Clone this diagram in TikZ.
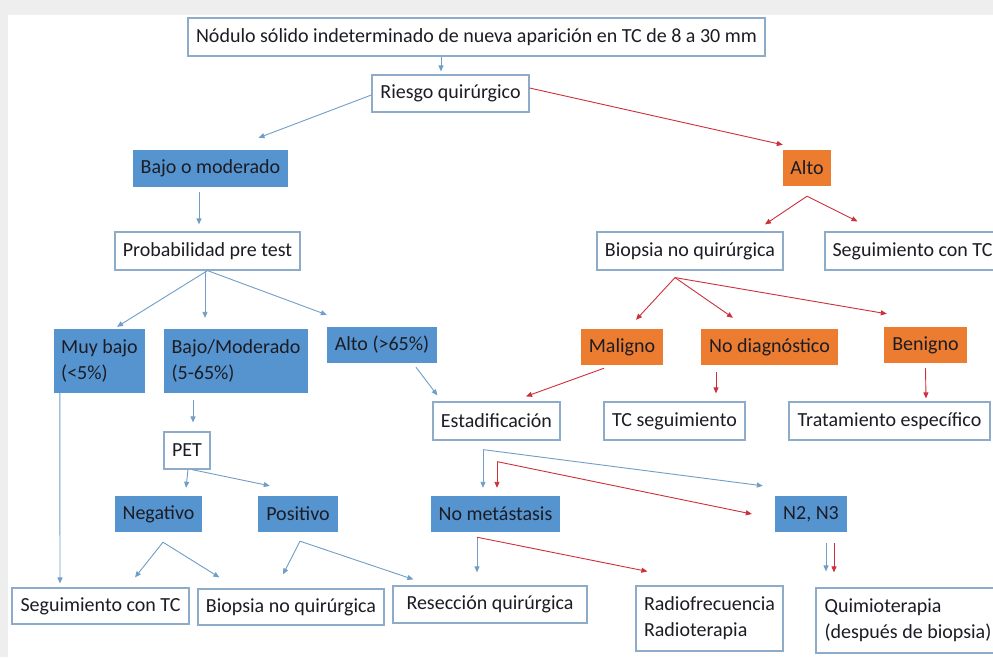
\documentclass[tikz,border=0pt]{standalone}
\usepackage{fontspec}
\setmainfont{Carlito}
\usetikzlibrary{arrows.meta}
\definecolor{boxline}{RGB}{140,172,202}
\definecolor{bluefill}{RGB}{86,148,208}
\definecolor{orangefill}{RGB}{236,124,48}
\definecolor{bluearrow}{RGB}{112,158,198}
\definecolor{redarrow}{RGB}{204,48,58}
\definecolor{txtcol}{RGB}{28,28,36}
\definecolor{frame}{RGB}{238,238,238}
\tikzstyle{plain} = [rectangle, draw=boxline, line width=1.2pt, fill=white, text=txtcol, inner sep=0pt, align=left, font=\fontsize{20}{26}\selectfont]
\tikzstyle{bluebox} = [rectangle, fill=bluefill, text=txtcol, inner sep=0pt, align=left, font=\fontsize{20}{26}\selectfont]
\tikzstyle{orangebox} = [rectangle, fill=orangefill, text=txtcol, inner sep=0pt, align=left, font=\fontsize{20}{26}\selectfont]
\tikzstyle{barrow} = [line width=0.9pt, draw=bluearrow, -{Triangle[length=6pt,width=5pt]}]
\tikzstyle{rarrow} = [line width=0.9pt, draw=redarrow, -{Triangle[length=6pt,width=5pt]}]

\begin{document}
\begin{tikzpicture}[x=1pt, y=-1pt]
	\useasboundingbox (0,0) rectangle (993,657);
	\fill [white] (0,0) rectangle (993,657);
	\fill [frame] (0,0) rectangle (993,15);
	\fill [frame] (0,15) rectangle (8,657);
	% top of the tree
	\node (nodulo) [plain, minimum width=577, minimum height=38] at (476.5,37) {Nódulo sólido indeterminado de nueva aparición en TC de 8 a 30 mm};
	\node (riesgo) [plain, minimum width=157, minimum height=37] at (450.5,93.5) {Riesgo quirúrgico};
	\node (bajomod) [bluebox, minimum width=155, minimum height=37] at (210.5,168.5) {Bajo o moderado};
	\node (alto) [orangebox, minimum width=48, minimum height=36] at (807,168) {Alto};
	% second level
	\node (prob) [plain, minimum width=185, minimum height=38] at (207.5,251) {Probabilidad pre test};
	\node (biopsiaA) [plain, minimum width=186, minimum height=38] at (690,251) {Biopsia no quirúrgica};
	\node (seguimA) [plain, minimum width=175, minimum height=38] at (912.5,251) {Seguimiento con TC};
	\node (muybajo) [bluebox, minimum width=91, minimum height=64] at (99.5,361) {Muy bajo\\(<5\%)};
	\node (bajomod2) [bluebox, minimum width=144, minimum height=64] at (236,361) {Bajo/Moderado\\(5-65\%)};
	\node (altoprob) [bluebox, minimum width=110, minimum height=36] at (382,345) {Alto (>65\%)};
	\node (maligno) [orangebox, minimum width=82, minimum height=36] at (622,347) {Maligno};
	\node (nodiag) [orangebox, minimum width=137, minimum height=36] at (769.5,347) {No diagnóstico};
	\node (benigno) [orangebox, minimum width=83, minimum height=36] at (925.5,345) {Benigno};
	% third level
	\node (estadif) [plain, minimum width=127, minimum height=38] at (496.5,421) {Estadificación};
	\node (tcseg) [plain, minimum width=141, minimum height=38] at (674.5,421) {TC seguimiento};
	\node (tratam) [plain, minimum width=201, minimum height=38] at (889.5,421) {Tratamiento específico};
	\node (pet) [plain, minimum width=46, minimum height=37] at (187,450.5) {PET};
	\node (negativo) [bluebox, minimum width=87, minimum height=36] at (158.5,514) {Negativo};
	\node (positivo) [bluebox, minimum width=80, minimum height=36] at (298,514) {Positivo};
	\node (nometa) [bluebox, minimum width=129, minimum height=36] at (495.5,514) {No metástasis};
	\node (n2n3) [bluebox, minimum width=72, minimum height=36] at (811,514) {N2, N3};
	% leaves
	\node (seguimB) [plain, minimum width=177, minimum height=36] at (100.5,606) {Seguimiento con TC};
	\node (biopsiaB) [plain, minimum width=186, minimum height=36] at (291,607) {Biopsia no quirúrgica};
	\node (reseccion) [plain, minimum width=194, minimum height=37] at (490,604.5) {Resección quirúrgica};
	\node (radio) [plain, minimum width=147, minimum height=65] at (709.5,618.5) {Radiofrecuencia\\Radioterapia};
	\node (quimio) [plain, minimum width=184, minimum height=65] at (908,620.5) {Quimioterapia\\(después de biopsia)};
	% connectors
	\draw [barrow] ([xshift=-35.5]nodulo.south) -- ([xshift=-9.5,yshift=3]riesgo.north);
	\draw [barrow] ([yshift=-1.5]riesgo.west) -- ([xshift=48,yshift=12]bajomod.north);
	\draw [rarrow] ([yshift=5.5]riesgo.east) -- ([yshift=5]alto.north west);
	\draw [rarrow] ([yshift=-10]alto.south) -- ([xshift=75,yshift=7]biopsiaA.north);
	\draw [rarrow] ([yshift=-10]alto.south) -- ([xshift=-55,yshift=10]seguimA.north);
	\draw [barrow] ([xshift=-11.5,yshift=-5]bajomod.south) -- ([xshift=-8.5,yshift=7]prob.north);
	\draw [barrow] (prob.south) -- ([xshift=17.5,yshift=2]muybajo.north);
	\draw [barrow] ([xshift=-2.5]prob.south) -- ([xshift=-31,yshift=11]bajomod2.north);
	\draw [barrow] (prob.south) -- ([yshift=12]altoprob.north west);
	\draw [rarrow] ([xshift=-15,yshift=-7]biopsiaA.south) -- ([xshift=14,yshift=9]maligno.north);
	\draw [rarrow] ([xshift=-15,yshift=-7]biopsiaA.south) -- ([xshift=-36.5,yshift=11]nodiag.north);
	\draw [rarrow] ([xshift=-15,yshift=-7]biopsiaA.south) -- ([xshift=3,yshift=13]benigno.north west);
	\draw [barrow] ([xshift=34,yshift=-4]altoprob.south) -- ([xshift=5,yshift=6]estadif.north west);
	\draw [rarrow] ([xshift=-18,yshift=-3]maligno.south) -- ([xshift=29.5,yshift=5]estadif.north);
	\draw [rarrow] ([xshift=-53.5,yshift=-7]nodiag.south) -- ([xshift=41.5,yshift=8]tcseg.north);
	\draw [rarrow] ([yshift=-5]benigno.south) -- ([xshift=36.5,yshift=3]tratam.north);
	\draw [barrow] ([xshift=6]muybajo.south west) -- ([xshift=-40.5,yshift=4]seguimB.north);
	\draw [barrow] ([xshift=-43,yshift=-7]bajomod2.south) -- ([xshift=6,yshift=9]pet.north);
	\draw [barrow] ([xshift=1]pet.south) -- ([xshift=27.5,yshift=8]negativo.north);
	\draw [barrow] ([xshift=5]pet.south) -- ([xshift=12,yshift=10]positivo.north west);
	\draw [barrow] ([xshift=4.5,yshift=-10]negativo.south) -- ([xshift=34.5,yshift=10]seguimB.north);
	\draw [barrow] ([xshift=4.5,yshift=-10]negativo.south) -- ([xshift=22,yshift=11]biopsiaB.north west);
	\draw [barrow] ([xshift=2,yshift=-9]positivo.south) -- ([xshift=-8,yshift=14]biopsiaB.north);
	\draw [barrow] ([xshift=2,yshift=-9]positivo.south) -- ([xshift=21,yshift=6]reseccion.north west);
	\draw [barrow] ([xshift=-13.5,yshift=-9]estadif.south) -- ([xshift=-12.5,yshift=8]nometa.north);
	\draw [barrow] ([xshift=-13.5,yshift=-9]estadif.south) -- ([xshift=-12,yshift=10]n2n3.north west);
	\draw [rarrow] ([xshift=0.5,yshift=-21]estadif.south) -- ([xshift=1.5,yshift=8]nometa.north);
	\draw [rarrow] ([xshift=0.5,yshift=-21]estadif.south) -- ([xshift=-23]n2n3.west);
	\draw [barrow] ([xshift=-18.5,yshift=-5]nometa.south) -- ([xshift=-13,yshift=13]reseccion.north);
	\draw [rarrow] ([xshift=-18.5,yshift=-5]nometa.south) -- ([xshift=12,yshift=14]radio.north west);
	\draw [barrow] ([xshift=15,yshift=-11]n2n3.south) -- ([xshift=-82,yshift=16]quimio.north);
	\draw [rarrow] ([xshift=23,yshift=-11]n2n3.south) -- ([xshift=-74,yshift=15]quimio.north);
\end{tikzpicture}
\end{document}
